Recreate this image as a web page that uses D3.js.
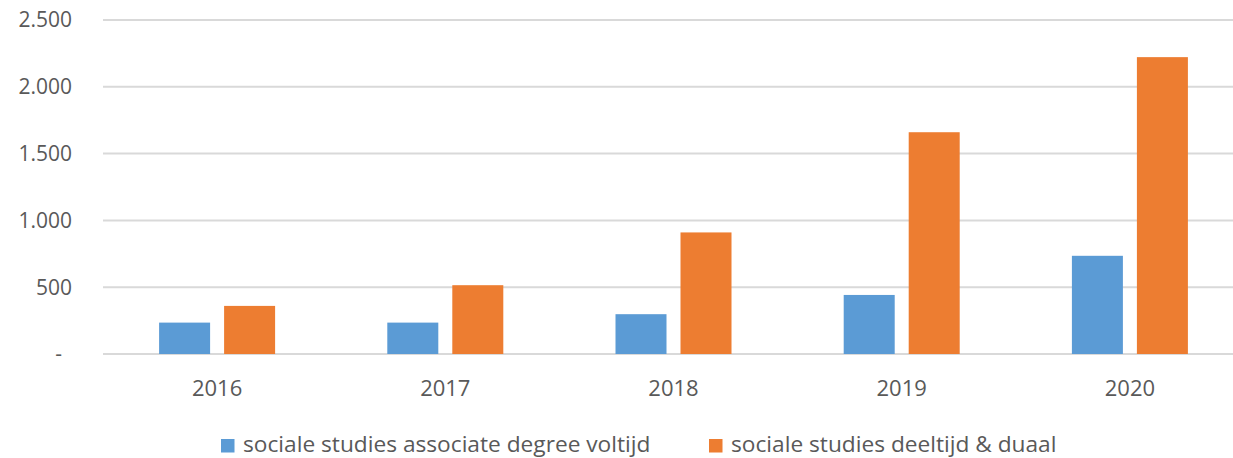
<!DOCTYPE html>
<html>
<head>
<meta charset="utf-8">
<script src="https://cdn.jsdelivr.net/npm/d3@7"></script>
<style>
  body { margin: 0; background: #fff; }
  text { font-family: "Open Sans", sans-serif; fill: #595959; }
</style>
</head>
<body>
<div id="chart"></div>
<script>
const years = ["2016", "2017", "2018", "2019", "2020"];
const seriesNames = ["sociale studies associate degree voltijd", "sociale studies deeltijd & duaal"];
const voltijd = [235, 235, 298, 442, 735];
const deeltijd = [360, 515, 910, 1660, 2222];
const yTicks = [0, 500, 1000, 1500, 2000, 2500];
const colors = ["#5B9BD5", "#ED7D31"];

const width = 1233, height = 458;
const margin = { top: 20, right: -11, bottom: 104, left: 103 };

const svg = d3.select("#chart").append("svg")
  .attr("width", width)
  .attr("height", height);

const x0 = d3.scaleBand()
  .domain(years)
  .range([margin.left, width - margin.right])
  .padding(0);

const x1 = d3.scaleBand()
  .domain([0, 1])
  .range([0, 116])
  .paddingInner(14 / 65);

const y = d3.scaleLinear()
  .domain([0, 2500])
  .range([height - margin.bottom, margin.top]);

// gridlines
svg.append("g")
  .selectAll("line")
  .data(yTicks)
  .enter()
  .append("line")
  .attr("x1", margin.left)
  .attr("x2", width - margin.right)
  .attr("y1", d => y(d))
  .attr("y2", d => y(d))
  .attr("stroke", "#D9D9D9")
  .attr("stroke-width", 2);

// y labels
const fmt = d => d === 0 ? "-" : d3.format(",")(d).replace(/,/g, ".");
svg.append("g")
  .selectAll("text")
  .data(yTicks)
  .enter()
  .append("text")
  .attr("x", d => d === 0 ? 62 : 72)
  .attr("y", d => y(d))
  .attr("dy", "0.35em")
  .attr("text-anchor", "end")
  .style("font-size", "21px")
  .text(fmt);

// bars
const rows = years.map((yr, i) => ({ year: yr, values: [voltijd[i], deeltijd[i]] }));
const offset = (x0.bandwidth() - 116) / 2;

const groups = svg.append("g")
  .selectAll("g")
  .data(rows)
  .enter()
  .append("g")
  .attr("transform", d => `translate(${x0(d.year) + offset},0)`);

groups.selectAll("rect")
  .data(d => d.values.map((v, k) => ({ k, v })))
  .enter()
  .append("rect")
  .attr("x", d => x1(d.k))
  .attr("y", d => y(d.v))
  .attr("width", x1.bandwidth())
  .attr("height", d => y(0) - y(d.v))
  .attr("fill", d => colors[d.k]);

// x labels
svg.append("g")
  .selectAll("text")
  .data(years)
  .enter()
  .append("text")
  .attr("x", d => x0(d) + x0.bandwidth() / 2)
  .attr("y", 396)
  .attr("text-anchor", "middle")
  .style("font-size", "22px")
  .text(d => d);

// legend
const legendItems = [
  { name: seriesNames[0], color: colors[0], x: 221 },
  { name: seriesNames[1], color: colors[1], x: 709 }
];
const legend = svg.append("g");
legendItems.forEach(item => {
  legend.append("rect")
    .attr("x", item.x)
    .attr("y", 439)
    .attr("width", 13.5)
    .attr("height", 13.5)
    .attr("fill", item.color);
  legend.append("text")
    .attr("x", item.x + 22)
    .attr("y", 452)
    .style("font-size", "22.7px")
    .text(item.name);
});
</script>
</body>
</html>
